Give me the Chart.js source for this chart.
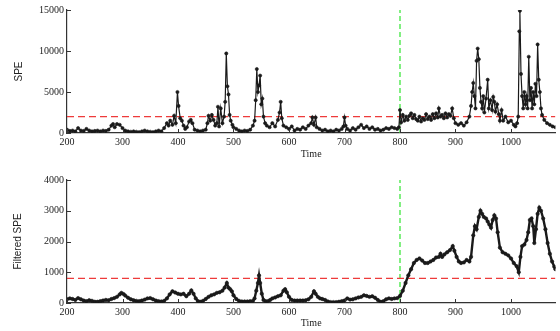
<!DOCTYPE html>
<html>
<head>
<meta charset="utf-8">
<script src="https://cdn.jsdelivr.net/npm/chart.js@4.4.1/dist/chart.umd.min.js"></script>
<style>
    html, body { margin: 0; padding: 0; background: #fff; }
    .panel { position: absolute; left: 0; }
</style>
</head>
<body>
<div class="panel" style="top:0"><canvas id="speChart" width="560" height="165"></canvas></div>
<div class="panel" style="top:165px"><canvas id="filtChart" width="560" height="166"></canvas></div>
<script>
// Raw SPE statistic (time, value)
const speTime = [
    200,205,210,215,220,225,230,235,240,245,250,255,260,265,270,275,280,283,286,290,
    295,300,305,310,315,320,325,330,335,340,345,350,355,360,365,370,375,380,383,386,
    390,393,396,399,401,404,407,410,413,416,420,423,426,430,435,440,445,450,453,455,
    458,461,464,467,470,472,474,477,480,483,485,487,489,491,493,495,498,500,505,510,
    515,520,525,530,535,538,540,542,544,546,548,550,552,554,557,560,565,570,575,580,
    583,585,587,590,595,600,605,610,615,620,625,630,635,640,642,645,648,650,655,660,
    665,670,675,680,685,690,695,698,700,702,705,710,715,720,725,730,735,740,745,750,
    755,760,765,770,775,780,785,790,795,798,800,802,805,808,811,814,817,820,823,826,
    829,832,835,838,841,844,847,850,853,856,859,862,865,868,870,873,876,879,882,885,
    888,891,894,897,900,905,910,915,920,925,928,930,932,934,936,938,940,942,944,946,
    948,950,952,955,958,960,963,966,968,970,972,975,978,980,983,986,990,995,1000,1005,
    1008,1011,1013,1015,1016,1018,1020,1022,1024,1026,1028,1030,1032,1034,1036,1038,1040,1042,1044,1046,
    1048,1050,1052,1054,1056,1060,1065,1070,1075,1080
];
const speValue = [
    400,250,300,200,600,300,250,500,300,200,250,300,200,300,250,400,900,1100,700,1100,
    1000,600,300,200,150,200,150,100,200,300,200,150,100,200,300,200,600,1200,900,1500,
    1000,2100,1200,5000,3300,1800,1500,900,500,700,1400,1600,1200,400,300,200,300,400,1200,2100,
    1500,2200,1600,900,1200,3200,800,3000,1200,2000,3800,9700,5700,4700,2200,1500,1000,700,500,300,
    200,300,250,400,900,1500,4000,7800,5000,5800,7000,3500,4200,2000,1200,900,700,1200,800,1600,
    2500,3800,1800,900,700,500,800,300,500,400,700,500,900,1200,1900,1000,1900,700,500,300,
    400,200,300,200,400,300,500,800,1900,900,500,300,600,400,700,1000,600,800,500,700,
    400,500,300,400,600,500,700,600,500,700,2800,1300,2200,1500,2000,1600,2100,2400,1800,2200,
    1700,1500,2000,1400,1800,1600,2300,1700,2000,1600,2300,1800,2400,1900,3000,2000,2200,1800,2400,1900,
    2300,2100,3000,1800,1200,1000,1200,900,1300,2000,3300,5000,6100,4500,3000,8800,10300,9000,5500,3800,
    3000,4500,2500,4200,6500,3000,4000,2800,4400,3800,2600,3500,2300,1500,2800,1500,2000,1300,1500,1000,
    800,1200,2000,12400,14900,7200,4500,3000,5000,3500,4500,3000,9300,4000,5500,3000,5000,3500,6000,4500,
    10800,6500,5000,3000,2200,1600,1200,1000,800,700
];

// Filtered SPE statistic (time, value)
const filtTime = [
    200,205,210,215,220,225,230,235,240,245,250,255,260,265,270,275,280,285,290,295,
    298,302,305,310,315,320,325,330,335,340,345,350,355,360,365,370,375,380,385,390,
    395,400,405,410,415,420,424,428,432,436,440,445,450,455,460,465,470,475,480,484,
    488,491,494,497,500,505,510,515,520,525,530,535,538,541,544,546,548,551,554,558,
    562,566,570,575,580,585,590,593,596,600,605,610,615,620,625,630,635,640,645,648,
    652,656,660,665,670,675,680,685,690,695,700,705,710,715,720,725,730,735,740,745,
    750,755,760,765,770,775,780,785,790,795,800,805,810,815,820,825,830,835,840,845,
    850,855,860,865,870,873,876,880,885,890,895,898,902,906,910,915,920,925,928,932,
    935,938,942,945,948,951,955,958,961,964,967,970,973,976,980,985,990,995,1000,1005,
    1010,1014,1017,1020,1024,1028,1031,1034,1037,1040,1042,1045,1048,1051,1054,1058,1062,1066,1070,1074,
    1078,1080
];
const filtValue = [
    120,150,130,100,160,120,80,60,90,70,40,40,60,80,100,90,130,160,200,280,
    330,290,240,170,120,90,70,60,80,110,150,160,120,80,60,50,70,150,280,380,
    340,300,280,300,220,300,410,300,150,60,40,70,130,200,250,280,330,350,400,500,
    650,500,450,380,250,130,70,50,50,50,60,70,150,400,650,900,650,300,100,60,
    60,100,150,180,220,250,400,450,350,200,100,80,80,80,80,90,120,200,380,300,
    200,150,130,100,50,30,30,30,40,60,80,150,110,120,150,180,200,250,230,200,
    220,170,100,40,60,120,150,130,150,160,230,400,650,900,1100,1300,1400,1450,1380,1300,
    1300,1350,1400,1480,1500,1600,1500,1580,1650,1720,1850,1700,1500,1350,1300,1320,1400,1350,1500,2200,
    2500,2400,2800,3000,2900,2800,2750,2650,2550,2450,2700,2850,2750,2300,1800,1650,1600,1550,1450,1300,
    1200,1000,1500,1850,1900,2050,2300,2700,2750,2500,1950,2400,2900,3100,3000,2750,2400,1950,1600,1350,
    1180,1100
];

// Axis ticks, control limits and fault onset
const timeTicks = [200, 300, 400, 500, 600, 700, 800, 900, 1000];
const speTicks = [0, 5000, 10000, 15000];
const filtTicks = [0, 1000, 2000, 3000, 4000];
const speLimit = 2000;
const filtLimit = 800;
const faultTime = 800;
const timeRange = [200, 1080];

// small inward tick marks, matlab style
const inwardTicks = {
    id: 'inwardTicks',
    afterDraw(chart) {
        const ctx = chart.ctx;
        const area = chart.chartArea;
        ctx.save();
        ctx.strokeStyle = '#333';
        ctx.lineWidth = 1;
        chart.scales.x.ticks.forEach(t => {
            const px = Math.round(chart.scales.x.getPixelForValue(t.value)) + 0.5;
            ctx.beginPath();
            ctx.moveTo(px, area.bottom);
            ctx.lineTo(px, area.bottom - 4);
            ctx.stroke();
        });
        chart.scales.y.ticks.forEach(t => {
            const py = Math.round(chart.scales.y.getPixelForValue(t.value)) + 0.5;
            ctx.beginPath();
            ctx.moveTo(area.left, py);
            ctx.lineTo(area.left + 4, py);
            ctx.stroke();
        });
        ctx.restore();
    }
};

function pairs(xs, ys) {
    return xs.map((x, i) => ({ x: x, y: ys[i] }));
}

function makeChart(id, opts) {
    const tickFont = { family: "'Liberation Serif', 'DejaVu Serif', serif", size: 10 };
    return new Chart(document.getElementById(id), {
        type: 'line',
        data: {
            datasets: [
                {
                    data: pairs(opts.time, opts.values),
                    borderColor: '#1a1a1a',
                    borderWidth: opts.lineWidth,
                    pointRadius: opts.pointRadius,
                    pointBackgroundColor: '#1a1a1a',
                    pointBorderColor: '#1a1a1a',
                    pointBorderWidth: 0.6,
                    tension: 0
                },
                {
                    data: [{ x: timeRange[0], y: opts.limit }, { x: timeRange[1], y: opts.limit }],
                    borderColor: '#ee3b3b',
                    borderWidth: 1.2,
                    borderDash: [7, 4],
                    pointRadius: 0
                },
                {
                    data: [{ x: faultTime, y: 0 }, { x: faultTime, y: opts.ticks[opts.ticks.length - 1] }],
                    borderColor: '#3ee63e',
                    borderWidth: 1.3,
                    borderDash: [5, 3],
                    pointRadius: 0
                }
            ]
        },
        options: {
            responsive: false,
            animation: false,
            devicePixelRatio: 1,
            layout: { padding: { left: 0, right: 3, top: opts.padTop, bottom: 0 } },
            plugins: {
                legend: { display: false },
                tooltip: { enabled: false }
            },
            scales: {
                x: {
                    type: 'linear',
                    min: timeRange[0],
                    max: timeRange[1],
                    afterBuildTicks: s => { s.ticks = timeTicks.map(v => ({ value: v })); },
                    afterFit: s => { s.height = opts.xHeight; },
                    grid: { display: false, drawTicks: false },
                    border: { display: true, color: '#333', width: 1.2 },
                    ticks: { color: '#222', font: tickFont, padding: 3, maxRotation: 0, callback: v => String(v) },
                    title: {
                        display: true,
                        text: 'Time',
                        color: '#222',
                        font: tickFont,
                        padding: { top: 0, bottom: opts.titleBottom }
                    }
                },
                y: {
                    min: 0,
                    max: opts.ticks[opts.ticks.length - 1],
                    afterBuildTicks: s => { s.ticks = opts.ticks.map(v => ({ value: v })); },
                    afterFit: s => { s.width = 67; },
                    grid: { display: false, drawTicks: false },
                    border: { display: true, color: '#333', width: 1.2 },
                    ticks: { color: '#222', font: tickFont, padding: 3, callback: v => String(v) },
                    title: {
                        display: true,
                        text: opts.label,
                        color: '#222',
                        font: { family: "'Liberation Sans', Arial, sans-serif", size: 10 },
                        padding: { top: opts.titleLeft, bottom: 0 }
                    }
                }
            }
        },
        plugins: [inwardTicks]
    });
}

document.addEventListener('DOMContentLoaded', function() {
    makeChart('speChart', {
        time: speTime, values: speValue, limit: speLimit, ticks: speTicks,
        label: 'SPE', padTop: 10, xHeight: 32, titleBottom: 5, titleLeft: 13,
        lineWidth: 1.2, pointRadius: 1.6
    });
    makeChart('filtChart', {
        time: filtTime, values: filtValue, limit: filtLimit, ticks: filtTicks,
        label: 'Filtered SPE', padTop: 15, xHeight: 28, titleBottom: 2, titleLeft: 12,
        lineWidth: 2.4, pointRadius: 1.7
    });
});
</script>
</body>
</html>
